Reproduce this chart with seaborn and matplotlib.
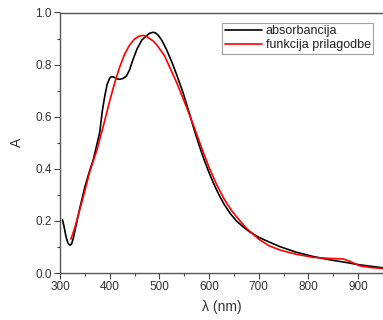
import numpy as np
import pandas as pd
import matplotlib
matplotlib.use('Agg')
import matplotlib.pyplot as plt
import seaborn as sns
from matplotlib.ticker import MultipleLocator

# measured spectrum (absorbancija)
wl_abs = [305, 308, 312, 316, 320, 323, 327, 332, 340, 350, 360, 367, 375, 380, 385,
          390, 395, 400, 403, 407, 412, 417, 422, 428, 434, 440, 447, 455, 465, 475,
          480, 487, 492, 498, 505, 515, 525, 535, 548, 560, 570, 580, 590, 600, 610,
          620, 630, 642, 655, 668, 680, 700, 722, 743, 775, 810, 845, 877, 904, 925, 950]
a_abs = [0.204, 0.18, 0.14, 0.115, 0.107, 0.11, 0.135, 0.18, 0.25, 0.33, 0.395, 0.435,
         0.50, 0.54, 0.62, 0.678, 0.725, 0.748, 0.753, 0.753, 0.748, 0.744, 0.744,
         0.748, 0.757, 0.78, 0.82, 0.86, 0.895, 0.912, 0.92, 0.924, 0.922, 0.912, 0.893,
         0.855, 0.81, 0.76, 0.69, 0.615, 0.55, 0.49, 0.435, 0.385, 0.34, 0.30, 0.265,
         0.23, 0.20, 0.178, 0.16, 0.137, 0.118, 0.101, 0.08, 0.063, 0.05, 0.04, 0.031,
         0.026, 0.02]

# fitted curve (funkcija prilagodbe)
wl_fit = [322, 330, 340, 350, 360, 374, 387, 400, 410, 420, 430, 440, 450, 458, 466,
          473, 480, 488, 495, 510, 535, 555, 570, 585, 600, 615, 630, 645, 660, 676,
          700, 720, 743, 775, 810, 843, 870, 884, 904, 925, 950]
a_fit = [0.13, 0.175, 0.245, 0.315, 0.39, 0.47, 0.563, 0.66, 0.73, 0.79, 0.84, 0.875,
         0.898, 0.908, 0.912, 0.91, 0.90, 0.89, 0.875, 0.835, 0.73, 0.635, 0.56, 0.48,
         0.405, 0.34, 0.285, 0.24, 0.205, 0.17, 0.13, 0.105, 0.088, 0.072, 0.06, 0.056,
         0.054, 0.044, 0.027, 0.021, 0.017]

df = pd.concat([
    pd.DataFrame({'wl': wl_abs, 'A': a_abs, 'serija': 'absorbancija'}),
    pd.DataFrame({'wl': wl_fit, 'A': a_fit, 'serija': 'funkcija prilagodbe'}),
])

sns.set_theme(style='ticks')
plt.rcParams['font.family'] = ['Liberation Sans', 'DejaVu Sans']

fig = plt.figure(figsize=(3.83, 3.20), dpi=100)
ax = fig.add_axes([60 / 383, 47 / 320, 1 - 60 / 383, 260.5 / 320])

sns.lineplot(data=df, x='wl', y='A', hue='serija', sort=False,
             palette={'absorbancija': 'black', 'funkcija prilagodbe': '#ff0000'},
             linewidth=1.2, ax=ax)

ax.set_xlim(300, 950)
ax.set_ylim(0, 1.0)
ax.xaxis.set_major_locator(MultipleLocator(100))
ax.xaxis.set_minor_locator(MultipleLocator(50))
ax.yaxis.set_major_locator(MultipleLocator(0.2))
ax.yaxis.set_minor_locator(MultipleLocator(0.1))
ax.yaxis.set_major_formatter(matplotlib.ticker.FormatStrFormatter('%.1f'))
ax.tick_params(which='major', length=4, width=0.8, color='#444444',
               labelsize=8.5, labelcolor='#333333', pad=2)
ax.tick_params(which='minor', length=2.5, width=0.8, color='#444444')

for s in ['left', 'bottom', 'top']:
    ax.spines[s].set_visible(True)
    ax.spines[s].set_color('#555555')
    ax.spines[s].set_linewidth(1.0)
ax.spines['right'].set_visible(False)

ax.set_xlabel('λ (nm)', fontsize=10, color='#333333', labelpad=5)
ax.set_ylabel('A', fontsize=10, color='#333333', labelpad=8)

leg = ax.legend(loc='upper right', bbox_to_anchor=(0.97, 0.96), fontsize=9,
                frameon=True, fancybox=False, edgecolor='#888888',
                handlelength=3.0, handletextpad=0.3, borderpad=0.2,
                labelspacing=0.15, borderaxespad=0)
leg.get_frame().set_linewidth(0.8)
for t in leg.get_texts():
    t.set_color('#222222')

fig.savefig('out.png', dpi=100)
